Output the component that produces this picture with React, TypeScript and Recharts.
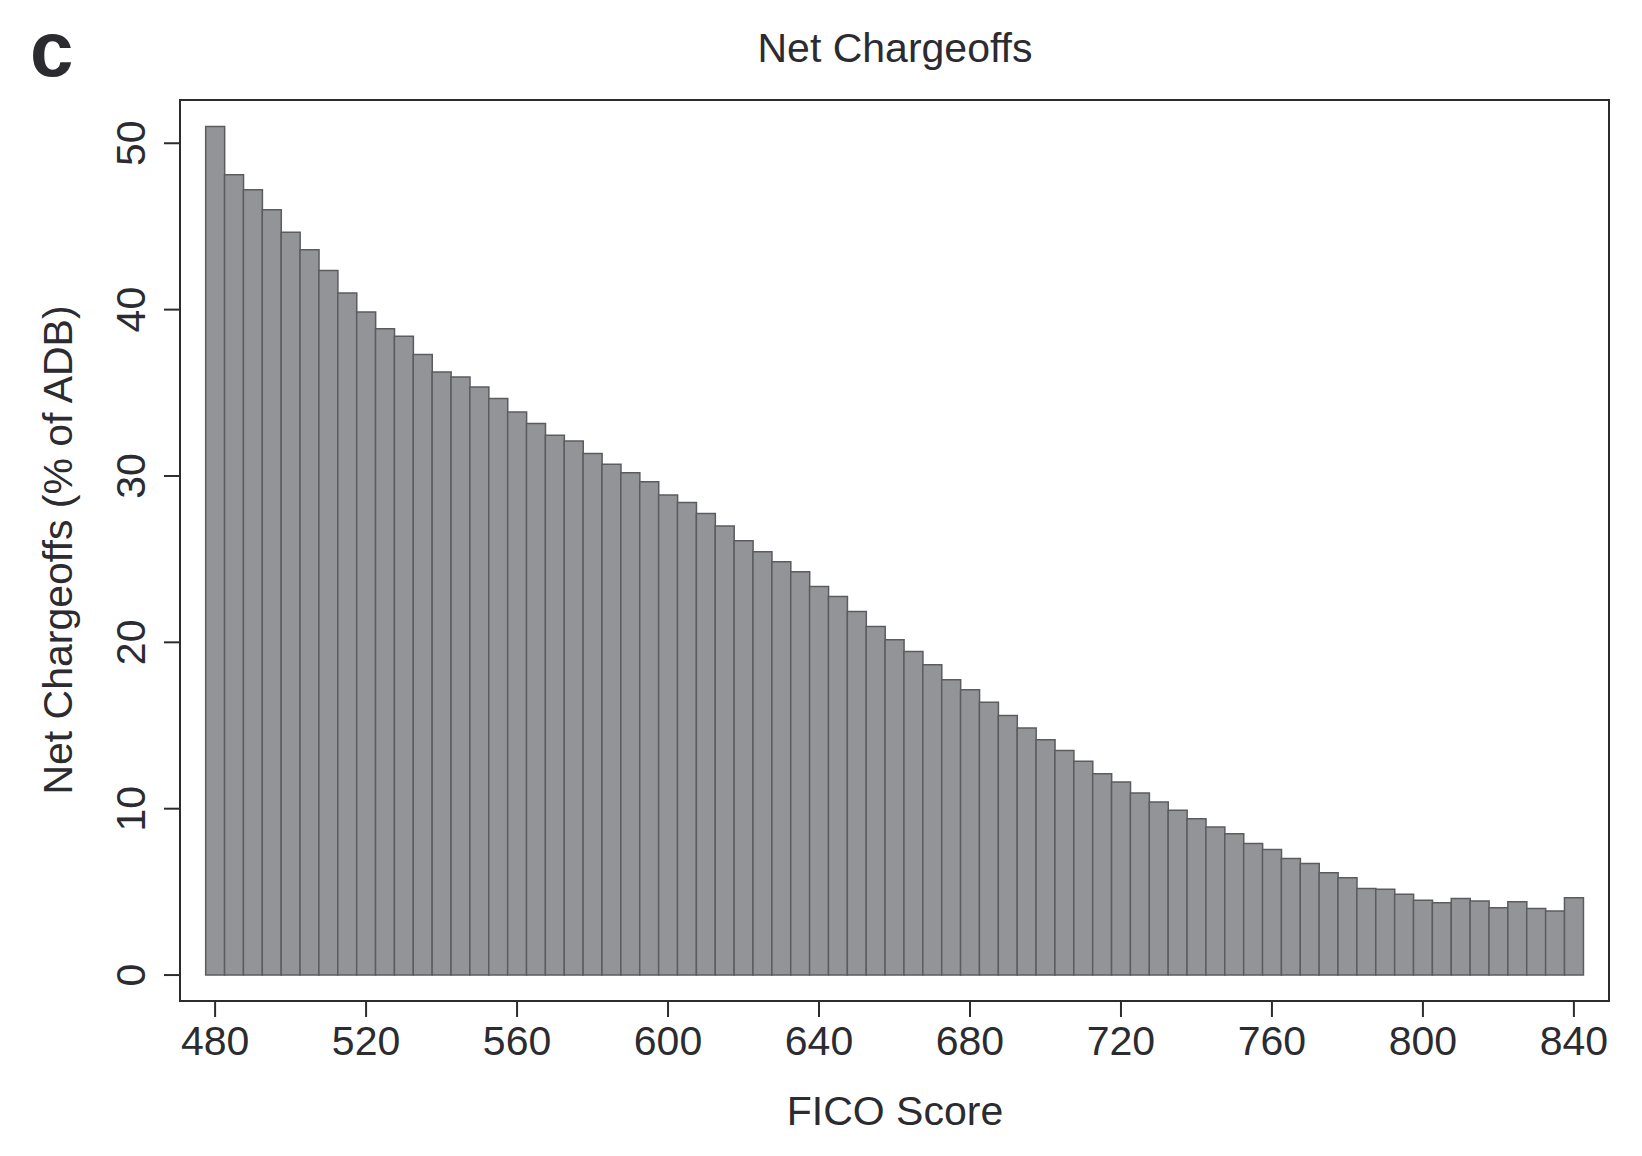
import React from "react";
import { Bar, BarChart, ReferenceArea, XAxis, YAxis } from "recharts";

// FICO score bins (5-point wide) and net chargeoffs as % of ADB
const ficoBins = [
  480, 485, 490, 495, 500, 505, 510, 515, 520, 525, 530, 535, 540, 545, 550, 555,
  560, 565, 570, 575, 580, 585, 590, 595, 600, 605, 610, 615, 620, 625, 630, 635,
  640, 645, 650, 655, 660, 665, 670, 675, 680, 685, 690, 695, 700, 705, 710, 715,
  720, 725, 730, 735, 740, 745, 750, 755, 760, 765, 770, 775, 780, 785, 790, 795,
  800, 805, 810, 815, 820, 825, 830, 835, 840,
];

const chargeoffs = [
  51.0, 48.1, 47.2, 46.0, 44.65, 43.6, 42.35, 41.0, 39.85, 38.85, 38.4, 37.3, 36.25, 35.95, 35.35, 34.65,
  33.85, 33.15, 32.45, 32.1, 31.35, 30.7, 30.2, 29.65, 28.85, 28.4, 27.75, 27.0, 26.1, 25.45, 24.85, 24.25,
  23.35, 22.75, 21.85, 20.95, 20.15, 19.45, 18.65, 17.75, 17.15, 16.4, 15.6, 14.85, 14.15, 13.5, 12.85, 12.1,
  11.6, 10.95, 10.4, 9.9, 9.4, 8.9, 8.5, 7.9, 7.55, 7.0, 6.7, 6.15, 5.85, 5.2, 5.15, 4.85,
  4.5, 4.35, 4.6, 4.45, 4.05, 4.4, 4.0, 3.85, 4.65,
];

const xTicks = [480, 520, 560, 600, 640, 680, 720, 760, 800, 840];
const yTicks = [0, 10, 20, 30, 40, 50];

const X_DOMAIN: [number, number] = [470.7, 849.3];
const Y_DOMAIN: [number, number] = [-1.56, 52.6];

const W = 1642;
const H = 1156;
const FONT = "'Liberation Sans', Arial, Helvetica, sans-serif";
const INK = "#2b2b30";

const data = ficoBins.map((fico, i) => ({ fico, value: chargeoffs[i] }));

function XTick(props: any) {
  const { x, y, payload } = props;
  return (
    <text x={x} y={y} dy={30} textAnchor="middle" fontSize={41} fill={INK} fontFamily={FONT}>
      {payload.value}
    </text>
  );
}

function YTick(props: any) {
  const { x, y, payload } = props;
  return (
    <text
      x={x}
      y={y}
      transform={`rotate(-90, ${x}, ${y})`}
      textAnchor="middle"
      fontSize={41}
      fill={INK}
      fontFamily={FONT}
    >
      {payload.value}
    </text>
  );
}

export default function App() {
  return (
    <div style={{ position: "absolute", left: 0, top: 0, width: W, height: H, background: "#fff" }}>
      <BarChart
        width={W}
        height={H}
        data={data}
        margin={{ top: 100, right: 33, bottom: 0, left: 0 }}
        barCategoryGap={0}
        barGap={0}
      >
        <XAxis
          dataKey="fico"
          type="number"
          domain={X_DOMAIN}
          ticks={xTicks}
          height={155}
          tickSize={16}
          tickMargin={8}
          axisLine={false}
          tickLine={{ stroke: INK, strokeWidth: 2 }}
          tick={XTick}
        />
        <YAxis
          type="number"
          domain={Y_DOMAIN}
          ticks={yTicks}
          width={180}
          tickSize={16}
          tickMargin={19}
          axisLine={false}
          tickLine={{ stroke: INK, strokeWidth: 2 }}
          tick={YTick}
        />
        <Bar dataKey="value" fill="#939498" stroke="#5b5c60" strokeWidth={1.5} isAnimationActive={false} />
        <ReferenceArea
          x1={X_DOMAIN[0]}
          x2={X_DOMAIN[1]}
          y1={Y_DOMAIN[0]}
          y2={Y_DOMAIN[1]}
          fill="none"
          fillOpacity={0}
          stroke={INK}
          strokeWidth={2}
          ifOverflow="visible"
        />
      </BarChart>
      <svg
        width={W}
        height={H}
        style={{ position: "absolute", left: 0, top: 0, pointerEvents: "none" }}
        fontFamily={FONT}
      >
        <text x={30} y={76} fontSize={78} fontWeight="bold" fill={INK}>
          c
        </text>
        <text x={895} y={62} fontSize={41} textAnchor="middle" fill={INK}>
          Net Chargeoffs
        </text>
        <text x={895} y={1125} fontSize={41} textAnchor="middle" fill={INK}>
          FICO Score
        </text>
        <text x={72} y={550} fontSize={41} textAnchor="middle" fill={INK} transform="rotate(-90, 72, 550)">
          Net Chargeoffs (% of ADB)
        </text>
      </svg>
    </div>
  );
}
